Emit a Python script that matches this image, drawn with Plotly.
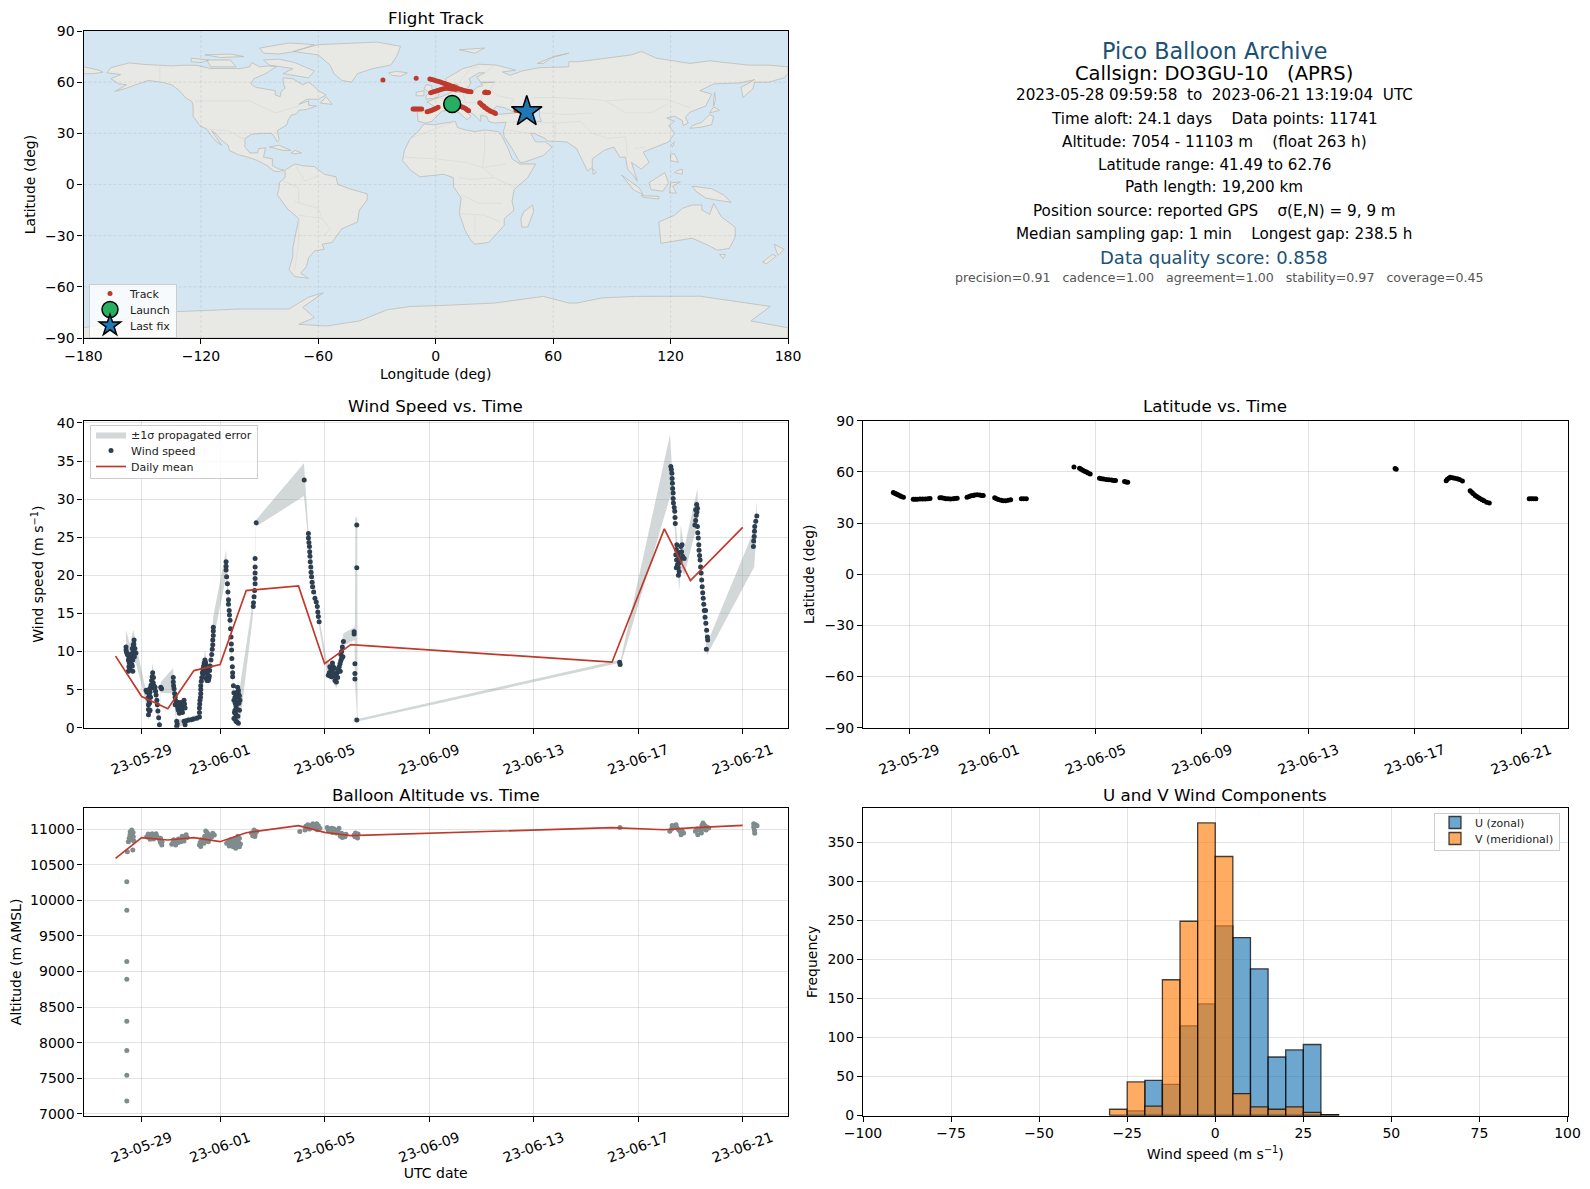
import pandas as pd
import plotly.graph_objects as go

W, H = 1590, 1189
FONT = "DejaVu Sans"

# ---------- map outlines (lon, lat) ----------
NORTH_AMERICA = [(-168,65.5),(-166,68.5),(-161,70),(-156.5,71.3),(-150,70.5),(-141,69.7),(-135,69.5),(-128,70),(-122,69.8),(-115,68),(-108,68),(-100,68),(-95,69),(-94,71.5),(-90,69),(-85,69.5),(-81.5,69),(-87,65),(-93,62),(-94.5,59),(-92,57),(-85,55.3),(-82,55),(-82,52.5),(-79.5,51.5),(-79,54.5),(-77,56.5),(-78,60),(-78,62.5),(-73,62),(-70,60),(-68,58.5),(-65,60),(-62,57.5),(-60,55),(-56,52.5),(-60,50),(-66,50),(-70,47),(-65,49),(-65,46.5),(-61,46),(-66,44),(-70,43.5),(-71,41.5),(-74,40.5),(-75.5,37.5),(-76,35),(-81,31.5),(-80,26.5),(-81,25),(-82.5,28),(-84,30),(-89,30),(-94,29.5),(-97.5,27),(-97.5,22),(-95,18.5),(-91,18.5),(-90.5,21),(-87,21.5),(-88,16),(-83.5,15),(-83.5,11),(-80,9),(-77.5,8.5),(-80,7.5),(-83,8),(-86,11),(-91,14),(-96,16),(-101,17.5),(-105.5,20),(-106,23),(-109.5,26),(-112.5,30),(-114.5,31.5),(-112,27),(-109.5,23),(-112,25),(-115,29),(-117,32.5),(-120.5,34.5),(-124,40),(-124,46),(-124.5,48.5),(-128,51),(-131,55),(-135,58.5),(-140,60),(-147,61),(-152,59),(-158,56.5),(-164,54.5),(-158,58.5),(-162,59),(-166,62),(-161,64.5),(-168,65.5)]
GREENLAND = [(-73,78),(-60,82),(-30,83.5),(-18,81),(-20,75),(-23,70),(-32,68),(-40,65),(-43,60),(-48,61),(-52,65),(-54,70),(-60,76),(-73,78)]
BAFFIN = [(-80,73.5),(-72,71.5),(-67,69),(-62,66.5),(-65,62.5),(-72,64),(-78,65),(-73,68),(-85,70),(-88,73),(-80,73.5)]
ELLESMERE = [(-90,80),(-75,83),(-62,82),(-72,78),(-80,76.5),(-88,77),(-90,80)]
VICTORIA = [(-117,73),(-105,73),(-102,69),(-115,69),(-117,73)]
BANKS = [(-125,74),(-116,73),(-120,71.5),(-125,72),(-125,74)]
MELVILLE = [(-118,76),(-105,76.5),(-98,75),(-110,74.5),(-118,76)]
NEWFOUNDLAND = [(-59,47.7),(-56,51.5),(-53,47),(-59,47.7)]
CUBA = [(-85,22),(-80,23),(-74,20),(-78,20),(-85,22)]
HISPANIOLA = [(-74,18.5),(-72,20),(-68.5,18.5),(-72,18),(-74,18.5)]
ICELAND = [(-24,65.5),(-20,66.3),(-14.5,65.5),(-18,63.5),(-22.5,64),(-24,65.5)]
SOUTH_AMERICA = [(-77,8.5),(-72,12),(-68,11),(-62,10.5),(-57,6),(-51,4.5),(-50,0),(-44,-2.5),(-35,-5.5),(-35,-9),(-39,-15),(-40,-22),(-48,-26),(-53,-34),(-58,-35),(-57,-38),(-62,-39),(-65,-43),(-66,-48),(-69,-52),(-65,-55),(-72,-54),(-75,-50),(-73,-42),(-73,-37),(-70,-20),(-76,-14),(-81,-6),(-80,-2),(-80,1),(-77,4),(-77,8.5)]
AFRICA = [(-6,35.5),(-1,35),(10,37),(11,33.5),(15,32),(20,31),(25,32),(32,31),(34,28),(37,21),(39,15),(43,12),(51,12),(47,4),(40,-3),(39,-10),(40,-15),(35,-20),(35,-24),(32,-28),(27,-34),(20,-35),(18,-33),(15,-27),(12,-17),(13,-8),(9,-1),(9,4),(4,6),(-4,5),(-8,4.5),(-13,8.5),(-17,14),(-16,20),(-13,27),(-9,31),(-6,35.5)]
MADAGASCAR = [(49.5,-12),(50,-16),(47,-25),(44,-25),(43.5,-20),(45,-16),(49.5,-12)]
EURASIA = [(-9,37),(-9.5,43),(-2,43.5),(-1,46),(-4.5,48.5),(2,51),(4,52),(8,54),(8,57),(10.5,57.5),(10,54),(14,54),(19,54.5),(21,57),(24,58),(23,59.5),(30,60),(23,60),(21,63),(25,65.5),(22,65.5),(17,62),(18,59.5),(16,56),(13,55.5),(11,59),(6,58),(5,62),(14,68),(22,70.5),(31,70),(41,67),(34,66),(38,64),(44,66.5),(53,68.5),(68,69),(68,72),(73,72),(80,73),(100,76),(105,78),(113,74),(130,71),(140,72.5),(160,70),(170,70),(180,69),(180,65),(178,62.5),(170,60),(163,60),(162,56),(157,51),(156,57),(163,61.5),(155,59.5),(142,59),(135,55),(141,53),(138,46),(130,42.5),(127.5,39.5),(129,36),(126.5,34.5),(126,37.5),(122,40),(118,39),(122,37),(119,34.5),(122,30),(119,25),(110,21),(106,19),(109,13),(105,9),(100,13),(103,2),(100.5,6),(98,9),(97,16),(94,16),(91,22),(86,20),(80,15),(80,10),(77.5,8),(73,18),(72,21),(67,25),(57,25.5),(56,27),(50,30),(48.5,30),(51,25),(56,25),(59.5,22),(55,17),(45,13),(43,13),(39,21),(35,28),(34.5,31),(36,36.5),(30,36),(27,37),(26,40),(23,40.5),(23,37),(19.5,41),(13,45.5),(18,40),(16,38),(12,42),(9,44),(3,43),(0,39),(-2,37),(-5,36),(-9,37)]
CHUKOTKA_W = [(-180,69),(-172,67),(-170,65.8),(-175,65),(-180,65),(-180,69)]
BRITAIN = [(-5,50),(1,51),(1.5,53),(-2,56),(-2,58),(-5,58.5),(-6,56),(-3,54),(-5,52),(-5,50)]
IRELAND = [(-10,52),(-6,52),(-6,55),(-10,54),(-10,52)]
SVALBARD = [(12,79),(25,80),(20,77),(12,79)]
NOVAYA = [(52,71),(58,74),(68,77),(60,75),(55,71),(52,71)]
SRI_LANKA = [(80,9.5),(82,7),(80.5,6),(80,9.5)]
HONSHU = [(130,33),(135,33.5),(141,35),(142,40),(140,41),(136,36.5),(131,34.5),(130,33)]
HOKKAIDO = [(140,42),(145,43.5),(142,45.5),(140,42)]
SAKHALIN = [(142,46),(143,50),(142.5,54),(142,50),(142,46)]
TAIWAN = [(120,23),(122,25),(121,22),(120,23)]
LUZON = [(120,18),(122,18),(124,13),(120,14),(120,18)]
MINDANAO = [(122,7),(126,6),(126,9),(123,8),(122,7)]
SUMATRA = [(95,5.5),(104,-2),(106,-6),(101,-3),(95,5.5)]
JAVA = [(105,-6.5),(114,-7),(114,-8.5),(106,-7.5),(105,-6.5)]
BORNEO = [(109,1),(117,7),(119,1),(116,-4),(110,-3),(109,1)]
SULAWESI = [(119.5,-5),(120,1),(125,1.5),(121,-1),(123,-5),(119.5,-5)]
NEW_GUINEA = [(131,-1),(141,-2.5),(147,-6),(151,-10.5),(143,-9),(138,-8),(133,-4),(131,-1)]
AUSTRALIA = [(114,-22),(122,-18),(126,-14),(131,-12),(136,-12),(136,-15),(140,-17.5),(142,-11),(146,-19),(153,-25),(153,-31),(150,-37.5),(144,-38.5),(138,-35),(131,-31.5),(124,-33),(115,-34.5),(114,-22)]
TASMANIA = [(145,-41),(148,-41),(147,-43.5),(145,-41)]
NZ_NORTH = [(173,-35),(178,-38),(175,-41.5),(174,-39),(173,-35)]
NZ_SOUTH = [(172,-41),(174,-42),(169,-46.5),(167,-45.5),(172,-41)]
ANTARCTICA = [(-180,-84),(-170,-82),(-155,-78),(-145,-75),(-120,-74),(-100,-73),(-75,-73),(-65,-66),(-57.5,-63.5),(-63,-68),(-68,-72),(-62,-78),(-70,-82),(-56,-83),(-39,-80),(-25,-73.5),(-13,-71.5),(2,-71),(30,-69.5),(55,-65.6),(68,-69.5),(72,-69.5),(85,-66.5),(102,-65.6),(135,-65.5),(171,-71.5),(161,-80),(180,-84),(180,-90),(-180,-90),(-180,-84)]
LANDMASSES = [NORTH_AMERICA, GREENLAND, BAFFIN, ELLESMERE, VICTORIA, BANKS, MELVILLE, NEWFOUNDLAND, CUBA, HISPANIOLA, ICELAND, SOUTH_AMERICA, AFRICA, MADAGASCAR, EURASIA, CHUKOTKA_W, BRITAIN, IRELAND, SVALBARD, NOVAYA, SRI_LANKA, HONSHU, HOKKAIDO, SAKHALIN, TAIWAN, LUZON, MINDANAO, SUMATRA, JAVA, BORNEO, SULAWESI, NEW_GUINEA, AUSTRALIA, TASMANIA, NZ_NORTH, NZ_SOUTH, ANTARCTICA]
BLACK_SEA = [(28,42),(31,46),(35,45),(41,42),(36,41.5),(31,41),(28,42)]
CASPIAN = [(47,45),(53,46),(53,40),(54,37),(50,37),(48,41),(47,45)]
INLAND_WATER = [BLACK_SEA, CASPIAN]
BORDERS = [
    [(-141,69.7),(-141,60)], [(-123,49),(-95,49),(-82,42),(-70,46)], [(-117,32.5),(-106,31.5),(-97,26)],
    [(-70,-18),(-58,-20),(-54,-26),(-57,-30)], [(-72,-10),(-60,-14),(-58,-20)], [(-78,2),(-70,-2),(-70,-10)], [(-70,-20),(-70,-33),(-72,-50)], [(-72,12),(-67,2),(-60,5)],
    [(-13,27),(-2,32),(10,37)], [(25,32),(25,20),(24,10),(30,4)], [(-16,16),(0,15),(15,13),(24,10),(36,12)], [(12,4),(18,3),(30,4),(41,-2)], [(13,-6),(22,-11),(34,-11)], [(12,-17),(25,-18),(33,-22)], [(20,-28),(20,-18)],
    [(36,32),(46,30),(48,30)], [(36,36.5),(44,37),(48,39)], [(44,37),(61,36),(61,25)], [(61,36),(74,37),(80,30),(88,27),(97,28)], [(54,42),(67,41),(80,42)], [(50,51),(60,51),(80,50),(87,49),(100,50),(118,50),(130,45)], [(87,49),(97,42),(110,42),(118,47)], [(97,28),(98,16)], [(101,21),(107,22)],
    [(2,51),(7,48),(7,44)], [(14,54),(15,48),(23,48),(24,54)], [(-9,42),(-2,43)], [(30,60),(28,56),(32,52),(40,50),(38,47)], [(23,48),(29,45)], [(22,41),(28,42)], [(25,65.5),(29,69)], [(12,60),(18,68),(22,69)],
]

# ---------- flight track (lon, lat) ----------
TRACK_POINTS = [(-27,61.3),(-10,62.3),
    (-3,61.8),(-2,61.5),(-1,61.2),(0,60.8),(1,60.5),(2,60.2),(3,59.8),(4,59.4),(5,59),(6,58.6),(7,58.2),(8,57.8),(9,57.4),(10,57),(11,56.5),(12,56),(13,55.7),(14,55.3),(15,55),(16,54.7),(17,54.5),(18,54.4),
    (-2.6,53.8),(-1.5,54.2),(-.5,54.5),(.5,54.9),(1.5,55.3),(2.5,55.7),(3.5,56),(4.5,56.3),(5.5,56.4),(6.5,56.3),(7.5,56.2),(8.5,56),(9.5,55.9),(10.5,55.8),
    (25,54),(25.5,54.2),(26,54),(26.5,53.8),(27,54),
    (22.5,48),(23,47.3),(23.7,46.5),(24.5,46),(25,45.2),(25.8,44.7),(26.5,44),(27.3,43.5),(28,43),(29,42.5),(30,42),(30.5,41.7),
    (-11.6,44.2),(-11,44.2),(-10.3,44.2),(-9.5,44.2),(-8.8,44.2),(-8,44.2),(-7.2,44.3),
    (-4.4,42.7),(-3.5,43),(-2.7,43.2),(-2,43.6),(-1.2,44),(-.5,44.3),(.3,44.7),(1.2,45.3),
    (13.3,45.6),(14,45.2),(14.7,44.8),(15.5,44.2),(16.2,43.7),(16.8,43.3),
    (41,43.6),(42,43.3),(43,43.2),(44,43)]
LAUNCH_LON, LAUNCH_LAT = [8.4], [47.2]
LAST_LON, LAST_LAT = [46.5], [42.7]

# ---------- time series: t = days after 2023-05-28 00:00 ----------
START = pd.Timestamp("2023-05-28")
WIND_POINTS = [
 (.40,10.6),(.40,10.2),(.42,9.9),(.45,9.6),(.49,8.9),(.53,8.5),(.49,7.4),(.51,8),(.55,7.7),(.58,9.6),(.60,9),(.62,8.3),(.66,7.4),(.66,8.9),(.68,10),(.68,10.9),(.71,11.5),(.70,11),(.74,10.4),(.78,9.8),(.72,9.3),(.64,8.1),
 (1.17,4.9),(1.20,4.7),(1.22,4.7),(1.29,4.3),(1.24,3.9),(1.26,3),(1.26,2.4),(1.26,1.7),(1.32,2.3),(1.30,3.2),(1.34,5.3),(1.32,4.7),(1.38,6.2),(1.40,6.7),(1.42,7.2),(1.45,6.6),(1.44,5.9),(1.47,5.5),(1.40,5.2),(1.51,5.3),(1.53,4.8),(1.55,4.3),(1.58,3.6),(1.6,3),(1.62,2.2),(1.65,1.3),(1.68,.4),(1.73,5.3),(1.76,5.1),
 (2.21,6.6),(2.21,6),(2.22,5.5),(2.24,5.1),(2.26,4.5),(2.28,4),(2.31,3.5),(2.34,3),(2.38,2.6),(2.4,2.3),(2.44,2.7),(2.47,3),(2.50,2.6),(2.53,2.3),(2.58,3),(2.62,3.6),(2.64,3.1),(2.66,2.6),(2.34,.85),(2.34,.2),(2.36,.5),(2.62,.85),(2.66,.4),(2.70,.9),(2.79,1),(2.90,1.05),(2.98,1.15),(3.1,1.25),(3.21,1.4),(3.21,2),(3.21,2.6),(3.22,3.1),(3.23,3.6),(3.25,4),(3.26,4.5),(3.26,5),(3.26,5.5),(3.28,6.1),(3.3,6.6),(3.32,7.2),(3.34,7.7),(3.37,8.1),(3.39,8.5),(3.42,8.9),(3.44,8.6),(3.46,8.3),(3.49,7.7),(3.51,7.2),(3.53,6.7),(3.55,6.2),(3.57,6.5),(3.59,6.8),(3.60,7.5),(3.62,8.1),(3.65,8.9),(3.68,9.6),(3.70,10.3),(3.72,10.9),(3.72,11.5),(3.74,12.1),(3.74,12.7),(3.74,13.2),
 (2.28,3),(2.44,1.9),(2.5,3.3),(2.56,2),(2.42,3.3),(3.36,7),(3.42,7.8),(3.44,7.2),(3.46,6.5),(3.5,6.2),(3.38,7.6),(1.34,4),(1.28,3.6),(1.3,2.2),(1.28,5),(1.36,5.6),(.50,9.4),(.54,9.2),(.58,8.4),(.62,9.7),(.64,10.4),
 (4.23,21.8),(4.23,21.2),(4.23,20.7),(4.25,19.8),(4.28,18.9),(4.30,17.8),(4.32,16.8),(4.32,16.2),(4.35,15.4),(4.36,14.8),(4.38,14.1),(4.40,13),(4.42,11.9),(4.43,11),(4.44,10.2),(4.45,9.1),(4.47,8),(4.48,7.2),(4.48,6.7),(4.51,5.5),(4.53,4.6),(4.53,3.6),(4.57,4),(4.57,2.3),(4.57,1.3),(4.61,2.8),(4.64,4),(4.67,5.3),(4.7,4.9),(4.7,4.5),(4.74,2.3),(4.7,.6),(4.76,3.6),(4.53,1.2),(4.64,.75),(4.62,3.4),(4.72,3.2),(4.6,1.8),(4.66,2.4),(4.58,3.2),(4.66,3.2),(4.74,4.2),(4.55,2),(4.68,1.5),(4.62,4.6),(4.6,.9),
 (5.27,15.9),(5.28,16.4),(5.30,17.2),(5.32,18),(5.34,18.9),(5.34,19.6),(5.34,20.3),(5.34,21.1),(5.34,22.2),(5.38,26.9),
 (7.22,32.5),
 (7.38,25.5),(7.38,24.9),(7.40,24.3),(7.42,23.8),(7.43,23.1),(7.44,22.5),(7.45,21.8),(7.47,21.1),(7.48,20.4),(7.5,19.8),(7.52,19.1),(7.54,18.5),(7.58,17.8),(7.63,17),(7.68,16.5),(7.72,15.9),(7.74,15.2),(7.76,14.6),(7.79,13.9),
 (8.14,6.9),(8.18,7.2),(8.21,6.8),(8.24,7.6),(8.27,6.7),(8.30,7.4),(8.33,8),(8.36,7),(8.4,6.2),(8.43,6.7),(8.46,7.1),(8.50,7.3),(8.53,7.5),(8.56,8),(8.59,8.4),(8.62,8.8),(8.65,9.1),(8.65,10),(8.68,10.6),(8.72,11.3),(8.2,8),(8.3,8.5),(8.38,7.8),(8.45,6),(8.5,6.6),(8.6,7.4),(8.62,9.6),(8.7,9.3),
 (9.13,12.6),(9.13,12.3),(9.16,6.4),(9.16,7.1),(9.16,8.4),(9.23,21),(9.23,26.6),(9.23,1),
 (19.29,8.6),(19.31,8.3),
 (21.25,34.3),(21.27,33.9),(21.29,33.4),(21.30,32.7),(21.31,32.1),(21.32,31.4),(21.34,30.8),(21.34,30.1),(21.35,29.5),(21.38,28.9),(21.4,28.4),(21.41,27.6),(21.42,26.8),(21.48,24),(21.46,23.4),(21.44,22.7),(21.47,22),(21.5,21.4),(21.53,21),(21.57,20.5),(21.55,21.6),(21.52,22.6),(21.58,23),(21.63,23.8),(21.66,23.1),(21.7,22.5),(21.76,22.2),(21.62,22.2),(21.46,21),(21.54,20),(21.6,21.8),(21.68,24),
 (22.27,28.8),(22.25,28.3),(22.22,27.9),(22.2,27.2),(22.17,26.6),(22.27,26.4),(22.28,25.6),(22.3,24.9),(22.32,24),(22.33,23.3),(22.35,22.6),(22.37,22),(22.39,21.1),(22.41,20.3),(22.43,19.4),(22.45,18.5),(22.47,17.7),(22.49,17),(22.51,16.2),(22.53,15.4),(22.56,14.5),(22.59,13.7),(22.62,12.8),(22.65,11.9),(22.61,10.3),(22.24,29.3),(22.2,28.6),(22.58,15.4),(22.66,11.5),
 (24.41,23.8),(24.42,24.5),(24.44,25.1),(24.45,25.8),(24.46,26.4),(24.5,27.1),(24.54,27.8),
]
BAND_T  = [.40,.55,.68,.78,1.10,1.26,1.42,1.68,1.73,2.2,2.34,2.65,3.2,3.42,3.55,3.74,4.23,4.32,4.44,4.53,4.74,5.25,5.38,7.21,7.38,7.79,8.08,8.46,8.72,9.15,9.16,9.18,9.25,9.26,19.27,19.31,21.22,21.35,21.42,21.57,21.63,21.76,22.27,22.3,22.63,24.44,24.54]
BAND_LO = [8.5,7,8.5,8.5,4.2,1,6,0,4.6,4.5,0,.5,1,7.8,5.5,11.5,19.8,15.5,9.5,3,0,14.5,26.4,30.4,24.3,13.3,7.2,5.2,10.8,11.5,6,5,.8,.8,8.5,8,30.3,28.5,25,17.9,21,20,26.8,24,9.5,21.1,26]
BAND_HI = [12.8,11,12.9,11,5.8,4,8.5,1,6,7.8,1,1.2,1.8,10.2,7,14.6,23.3,18,11,4.5,4.9,16.5,27.3,34.7,26,14.5,8.9,7.5,12.4,13.2,14,27.8,27.5,1.15,8.9,8.6,38.5,30.5,28,21,26.6,23.5,31.4,26,11,26,29.7]
MEAN_T = [0,1,2,3,4,5,7,8,9,19,21,22,24]
WIND_MEAN = [9.4,4.1,2.5,7.5,8.3,18,18.6,8.4,10.9,8.6,26.1,19.3,26.3]
ALT_MEAN_T = [0,1,2,3,4,5,7,8,9,19,21,22,24]
ALT_MEAN = [10588,10878,10846,10878,10822,10948,11047,10953,10906,11020,10990,11015,11051]
LAT_POINTS = [(.40,47.9),(.45,47.5),(.50,47.2),(.55,46.8),(.59,46.5),(.65,46),(.70,45.6),(.78,45.1),
 (1.15,44),(1.22,44),(1.3,44),(1.4,44.1),(1.5,44.1),(1.6,44.1),(1.7,44.2),(1.78,44.4),
 (2.15,44.8),(2.22,44.8),(2.3,44.6),(2.38,44.3),(2.46,44.2),(2.55,44.1),(2.65,44.2),(2.72,44.4),(2.8,44.6),
 (3.17,45.1),(3.25,45.6),(3.32,46),(3.4,46.2),(3.46,46.5),(3.55,46.6),(3.65,46.5),(3.72,46.2),(3.78,46.1),
 (4.21,44.8),(4.28,44.2),(4.35,43.8),(4.45,43.3),(4.53,43),(4.62,43.1),(4.72,43.4),(4.81,43.6),
 (5.21,44.2),(5.3,44.2),(5.4,44.2),
 (7.19,62.9),(7.4,62.1),(7.46,61.5),(7.52,61),(7.59,60.4),(7.66,59.9),(7.72,59.4),(7.8,58.8),
 (8.15,56.3),(8.22,56),(8.3,55.8),(8.4,55.5),(8.5,55.4),(8.6,55.2),(8.68,55),(8.75,54.9),
 (9.09,54.3),(9.15,54.1),(9.21,53.9),
 (19.26,62),(19.3,61.6),
 (21.18,54.8),(21.22,55.6),(21.28,56.2),(21.33,56.8),(21.42,56.6),(21.5,56.3),(21.6,56),(21.68,55.5),(21.79,54.7),
 (22.08,49),(22.14,48),(22.2,47.2),(22.27,46.1),(22.33,45.5),(22.4,44.8),(22.46,44.3),(22.53,43.6),(22.6,43),(22.7,42.2),(22.8,41.8),
 (24.3,44.3),(24.38,44.3),(24.46,44.3),(24.55,44.3)]
ALT_POINTS = [(.43,10260),(.43,9860),(.43,9140),(.43,8890),(.43,8300),(.43,7890),(.43,7540),(.43,7180),
 (.45,10680),(.49,10822),(.52,10870),(.55,10916),(.62,10940),(.68,10892),(.66,10705),(.60,10880),(.58,10850),(.64,10900),(.56,10960),(.62,10985),(.67,10950),(.7,10830),
 (1.19,10892),(1.25,10885),(1.32,10906),(1.38,10895),(1.45,10905),(1.52,10885),(1.58,10900),(1.65,10869),(1.7,10840),(1.77,10775),(1.72,10810),(1.32,10855),(1.45,10860),(1.25,10930),(1.4,10935),(1.55,10935),(1.72,10870),(1.78,10820),
 (2.15,10785),(2.2,10810),(2.28,10822),(2.35,10845),(2.41,10860),(2.5,10860),(2.58,10875),(2.66,10892),(2.74,10880),(2.22,10850),(2.4,10810),(2.3,10775),(2.5,10820),(2.62,10830),(2.7,10920),(2.55,10900),
 (3.21,10775),(3.26,10755),(3.3,10810),(3.36,10845),(3.41,10900),(3.45,10972),(3.5,10950),(3.55,10925),(3.62,10905),(3.68,10892),(3.78,10916),(3.55,10820),(3.45,10860),(3.28,10850),(3.38,10800),(3.6,10860),(3.72,10940),(3.5,10880),(3.24,10810),
 (4.25,10800),(4.32,10820),(4.38,10845),(4.45,10790),(4.5,10750),(4.58,10810),(4.64,10870),(4.74,10750),(4.74,10870),(4.64,10780),(4.7,10820),(4.55,10860),(4.45,10850),(4.6,10730),(4.78,10790),(4.68,10900),(4.35,10760),(4.52,10800),
 (5.2,10945),(5.27,10940),(5.34,10925),(5.3,10985),(5.4,10965),(5.35,10960),(5.25,10905),(5.33,10895),
 (7.25,10986),(7.32,11010),(7.38,11033),(7.46,11047),(7.6,11056),(7.76,11047),(7.82,11010),(7.5,11020),(7.65,11015),(7.05,10965),(7.28,11040),(7.42,11000),(7.55,11075),(7.7,11075),(7.36,11060),(7.72,10990),
 (8.14,10986),(8.27,11010),(8.4,10986),(8.5,10975),(8.65,10940),(8.78,10892),(8.6,10900),(8.2,11000),(8.35,11005),(8.72,10920),(8.3,10950),(8.45,10945),(8.55,11010),(8.68,10880),(8.82,10925),(8.1,11020),
 (9.13,10916),(9.16,10892),(9.23,10906),(9.28,10930),(9.18,10945),(9.26,10875),
 (19.3,11020),
 (21.21,10967),(21.28,11000),(21.36,11028),(21.42,11030),(21.49,11014),(21.55,10990),(21.64,10920),(21.74,10944),(21.6,10967),(21.3,11050),(21.45,11060),(21.68,10985),
 (22.19,10967),(22.28,10920),(22.34,10990),(22.38,10990),(22.44,11050),(22.48,11084),(22.57,11037),(22.7,11014),(22.3,11000),(22.52,11060),(22.62,11030),(22.24,11000),(22.42,10945),(22.5,11000),(22.6,10985),
 (24.42,11075),(24.55,11047),(24.45,10981),(24.42,11030),(24.5,11060),(24.46,10940)]

# ---------- histogram ----------
BIN_LEFT = [-30,-25,-20,-15,-10,-5,0,5,10,15,20,25,30]
U_COUNTS = [0,6,45,40,115,143,243,228,188,75,84,91,1]
V_COUNTS = [8,43,12,174,249,375,332,28,11,8,11,4,1]

# ---------- ticks / text ----------
DATE_TICKS = ["2023-05-29","2023-06-01","2023-06-05","2023-06-09","2023-06-13","2023-06-17","2023-06-21"]
MAP_LON_TICKS = [-180,-120,-60,0,60,120,180]
LAT_TICKS = [-90,-60,-30,0,30,60,90]
INFO_LINES = ["2023-05-28 09:59:58  to  2023-06-21 13:19:04  UTC",
              "Time aloft: 24.1 days    Data points: 11741",
              "Altitude: 7054 - 11103 m    (float 263 h)",
              "Latitude range: 41.49 to 62.76",
              "Path length: 19,200 km",
              "Position source: reported GPS    σ(E,N) = 9, 9 m",
              "Median sampling gap: 1 min    Longest gap: 238.5 h"]

def when(ts):
    return START + pd.to_timedelta(list(ts), unit="D")

def xs(pts): return [p[0] for p in pts]
def ys(pts): return [p[1] for p in pts]
def brk(lists):
    ox, oy = [], []
    for l in lists:
        ox += xs(l) + [None]; oy += ys(l) + [None]
    return ox, oy

def dx(a, b): return [a / W, b / W]
def dy(top, bot): return [1 - bot / H, 1 - top / H]

COL_L, COL_R = (83.5, 788), (863, 1567.5)
ROW_1, ROW_2, ROW_3 = (31, 338), (420.7, 727.7), (808.3, 1115.5)
SP = "rgba(176,176,176,0.35)"
NAVY = "#2c3e50"; RED = "#c0392b"; TITLEBLUE = "#1a5276"; OCEAN = "#d4e6f1"; LAND = "#e8e8e4"

fig = go.Figure()
# map
lx, ly = brk(LANDMASSES)
fig.add_trace(go.Scatter(x=lx, y=ly, mode="lines", fill="toself", fillcolor=LAND, line=dict(color="#bcbcb8", width=0.8), hoverinfo="skip", showlegend=False, xaxis="x", yaxis="y"))
wx, wy = brk(INLAND_WATER)
fig.add_trace(go.Scatter(x=wx, y=wy, mode="lines", fill="toself", fillcolor=OCEAN, line=dict(color="#bcbcb8", width=0.8), hoverinfo="skip", showlegend=False, xaxis="x", yaxis="y"))
bx, by = brk(BORDERS)
fig.add_trace(go.Scatter(x=bx, y=by, mode="lines", line=dict(color="#dadad6", width=0.7), hoverinfo="skip", showlegend=False, xaxis="x", yaxis="y"))
gx, gy = [], []
for v in MAP_LON_TICKS[1:-1]:
    gx += [v, v, None]; gy += [LAT_TICKS[0], LAT_TICKS[-1], None]
for v in LAT_TICKS[1:-1]:
    gx += [MAP_LON_TICKS[0], MAP_LON_TICKS[-1], None]; gy += [v, v, None]
fig.add_trace(go.Scatter(x=gx, y=gy, mode="lines", line=dict(color="rgba(130,130,130,0.28)", width=0.6, dash="3px,2px"), hoverinfo="skip", showlegend=False, xaxis="x", yaxis="y"))
fig.add_trace(go.Scatter(x=xs(TRACK_POINTS), y=ys(TRACK_POINTS), mode="markers", name="Track", marker=dict(color=RED, size=5), xaxis="x", yaxis="y", legend="legend"))
fig.add_trace(go.Scatter(x=LAUNCH_LON, y=LAUNCH_LAT, mode="markers", name="Launch", marker=dict(color="#27ae60", size=17, line=dict(color="black", width=1.5)), xaxis="x", yaxis="y", legend="legend"))
fig.add_trace(go.Scatter(x=LAST_LON, y=LAST_LAT, mode="markers", name="Last fix", marker=dict(color="#1f77b4", symbol="star", size=23, line=dict(color="black", width=1.5)), xaxis="x", yaxis="y", legend="legend"))

# wind
band_x = when(BAND_T).tolist() + when(BAND_T[::-1]).tolist()
fig.add_trace(go.Scatter(x=band_x, y=BAND_HI + BAND_LO[::-1], mode="lines", fill="toself", fillcolor="rgba(127,140,141,0.35)", line=dict(width=0, color="rgba(0,0,0,0)"), name="±1σ propagated error", xaxis="x2", yaxis="y2", legend="legend2"))
fig.add_trace(go.Scatter(x=when(xs(WIND_POINTS)), y=ys(WIND_POINTS), mode="markers", name="Wind speed", marker=dict(color=NAVY, size=5), xaxis="x2", yaxis="y2", legend="legend2"))
fig.add_trace(go.Scatter(x=when(MEAN_T), y=WIND_MEAN, mode="lines", name="Daily mean", line=dict(color=RED, width=1.7), xaxis="x2", yaxis="y2", legend="legend2"))
# latitude
fig.add_trace(go.Scatter(x=when(xs(LAT_POINTS)), y=ys(LAT_POINTS), mode="markers", marker=dict(color="black", size=5), showlegend=False, xaxis="x3", yaxis="y3"))
# altitude
fig.add_trace(go.Scatter(x=when(xs(ALT_POINTS)), y=ys(ALT_POINTS), mode="markers", marker=dict(color="#7f8c8d", size=5), showlegend=False, xaxis="x4", yaxis="y4"))
fig.add_trace(go.Scatter(x=when(ALT_MEAN_T), y=ALT_MEAN, mode="lines", line=dict(color=RED, width=1.7), showlegend=False, xaxis="x4", yaxis="y4"))
# histogram
centers = [b + 2.5 for b in BIN_LEFT]
EDGE = "rgba(0,0,0,0.72)"
fig.add_trace(go.Bar(x=centers, y=U_COUNTS, width=5, name="U (zonal)", marker=dict(color="rgba(31,119,180,0.65)", line=dict(color=EDGE, width=1.3)), xaxis="x5", yaxis="y5", legend="legend3"))
fig.add_trace(go.Bar(x=centers, y=V_COUNTS, width=5, name="V (meridional)", marker=dict(color="rgba(255,127,14,0.65)", line=dict(color=EDGE, width=1.3)), xaxis="x5", yaxis="y5", legend="legend3"))

base = dict(showline=True, linecolor="black", linewidth=1.1, mirror=True, ticks="outside", ticklen=5, tickwidth=1.1, tickcolor="black", automargin=False,
            showgrid=True, gridcolor=SP, gridwidth=1.1, zeroline=False, tickfont=dict(size=14, family=FONT, color="black"))
tfont = dict(size=14, family=FONT, color="black")
def date_axis(rng, anchor, dom, title=None):
    d = dict(base, type="date", range=rng, anchor=anchor, domain=dom, tickmode="array", tickvals=DATE_TICKS, tickformat="%y-%m-%d", tickangle=-20, ticklabelshift=29, ticklabelstandoff=3)
    if title:
        d["title"] = dict(text=title, font=tfont, standoff=2)
    return d
def yt(text, standoff=6):
    return dict(text=text, font=tfont, standoff=standoff)

WIND_RANGE = ["2023-05-26 18:33", "2023-06-22 17:37"]
LAT_RANGE = ["2023-05-27 06:15", "2023-06-22 17:45"]

def legend_box(x, y, **kw):
    return dict(x=x / W, y=1 - y / H, xanchor="left", yanchor="top", bgcolor="rgba(255,255,255,0.8)", bordercolor="#cccccc", borderwidth=1,
                font=dict(size=11, family=FONT, color="#222"), tracegroupgap=0, itemsizing="trace", **kw)

ann = []
def T(text, x, y, size, color="black", **kw):
    ann.append(dict(text=text, x=x / W, y=1 - y / H, xref="paper", yref="paper", showarrow=False, xanchor="center", yanchor="middle",
                    font=dict(size=size, family=FONT, color=color), **kw))
T("Flight Track", sum(COL_L) / 2, 18, 16.7)
T("Wind Speed vs. Time", sum(COL_L) / 2, 406, 16.7)
T("Latitude vs. Time", sum(COL_R) / 2, 406, 16.7)
T("Balloon Altitude vs. Time", sum(COL_L) / 2, 795, 16.7)
T("U and V Wind Components", sum(COL_R) / 2, 795, 16.7)
CX = 1214
T("Pico Balloon Archive", CX, 51, 22.3, TITLEBLUE)
T("Callsign: DO3GU-10   (APRS)", CX, 73, 19.5)
for text, y in zip(INFO_LINES, [95.5, 118.5, 142, 164.5, 187.5, 211, 234]):
    T(text.replace("  ", "\u00a0\u00a0"), CX, y, 15.2)
T("Data quality score: 0.858", CX, 257, 18, TITLEBLUE)
T("precision=0.91\u00a0\u00a0\u00a0cadence=1.00\u00a0\u00a0\u00a0agreement=1.00\u00a0\u00a0\u00a0stability=0.97\u00a0\u00a0\u00a0coverage=0.45", CX + 4.5, 278, 12.6, "#555555")

fig.update_layout(
    width=W, height=H, margin=dict(l=0, r=0, t=0, b=0), autosize=False, paper_bgcolor="white", plot_bgcolor="white",
    barmode="overlay", font=dict(family=FONT), annotations=ann,
    shapes=[dict(type="rect", xref="x", yref="y", x0=MAP_LON_TICKS[0], x1=MAP_LON_TICKS[-1], y0=LAT_TICKS[0], y1=LAT_TICKS[-1], fillcolor=OCEAN, line=dict(width=0), layer="below")],
    xaxis=dict(base, range=[-180, 180], anchor="y", domain=dx(*COL_L), tickvals=MAP_LON_TICKS, showgrid=False, title=dict(text="Longitude (deg)", font=tfont, standoff=6)),
    yaxis=dict(base, range=[-90, 90], anchor="x", domain=dy(*ROW_1), tickvals=LAT_TICKS, showgrid=False, title=yt("Latitude (deg)")),
    xaxis2=date_axis(WIND_RANGE, "y2", dx(*COL_L)),
    yaxis2=dict(base, range=[0, 40.3], anchor="x2", domain=dy(*ROW_2), tickvals=[0, 5, 10, 15, 20, 25, 30, 35, 40], title=yt("Wind speed (m s<sup>−1</sup>)", 9)),
    xaxis3=date_axis(LAT_RANGE, "y3", dx(*COL_R)),
    yaxis3=dict(base, range=[-90, 90], anchor="x3", domain=dy(*ROW_2), tickvals=LAT_TICKS, title=yt("Latitude (deg)")),
    xaxis4=date_axis(WIND_RANGE, "y4", dx(*COL_L), "UTC date"),
    yaxis4=dict(base, range=[6976, 11291], anchor="x4", domain=dy(*ROW_3), tickvals=list(range(7000, 11001, 500)), tickformat="d", title=yt("Altitude (m AMSL)", 5)),
    xaxis5=dict(base, range=[-100, 100], anchor="y5", domain=dx(*COL_R), tickvals=[-100, -75, -50, -25, 0, 25, 50, 75, 100], title=dict(text="Wind speed (m s<sup>−1</sup>)", font=tfont, standoff=8)),
    yaxis5=dict(base, range=[0, 393.75], anchor="x5", domain=dy(*ROW_3), tickvals=[0, 50, 100, 150, 200, 250, 300, 350], title=yt("Frequency")),
    legend=legend_box(89, 284),
    legend2=legend_box(90, 425),
    legend3=legend_box(1434, 813),
)
TIGHTEN_LEGENDS = """
document.body.style.margin='0';document.body.style.overflow='hidden';
document.querySelectorAll('.legend,.legend2,.legend3').forEach(function(lg){
  var rows=lg.querySelectorAll('.traces'); var pitch=16; var y0=null;
  rows.forEach(function(r,i){
    var m=/translate\\(([^,]+),\\s*([^)]+)\\)/.exec(r.getAttribute('transform')||'');
    if(!m) return; if(y0===null) y0=parseFloat(m[2]);
    r.setAttribute('transform','translate('+m[1]+','+(y0-6+i*pitch)+')');
  });
  var bg=lg.querySelector('rect.bg'); if(bg&&y0!==null) bg.setAttribute('height', rows.length*pitch+5);
});
"""
fig.write_html("out.html", config=dict(displayModeBar=False), post_script=TIGHTEN_LEGENDS)
